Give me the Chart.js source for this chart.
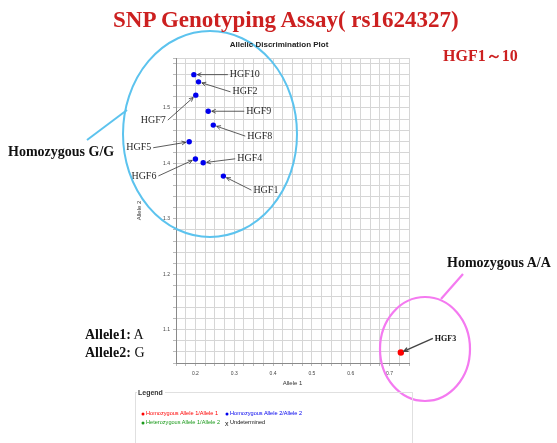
<!DOCTYPE html>
<html><head><meta charset="utf-8">
<script src="https://cdn.jsdelivr.net/npm/chart.js@4.4.1/dist/chart.umd.min.js"></script>
<style>
html,body{margin:0;padding:0;background:#fff;}
#wrap{position:relative;width:557px;height:443px;overflow:hidden;background:#fff;}
#c{position:absolute;left:0;top:0;}
.t{position:absolute;white-space:nowrap;line-height:1;transform:translateY(-50%);}
.serif{font-family:"Liberation Serif","Times New Roman",serif;}
.sans{font-family:"Liberation Sans",Arial,sans-serif;}
#title{left:113px;top:19px;font-size:23px;font-weight:bold;color:#cc2020;}
#sub{left:443px;top:56px;font-size:16px;font-weight:bold;color:#cc2020;}
#plotTitle{left:279px;top:45px;font-size:8px;font-weight:bold;color:#222;transform:translate(-50%,-50%);}
#homoGG{left:8px;top:152px;font-size:14px;font-weight:bold;color:#111;}
#homoAA{left:447px;top:263px;font-size:14px;font-weight:bold;color:#111;}
#al1{left:85px;top:335px;font-size:14px;color:#111;}
#al2{left:85px;top:353px;font-size:14px;color:#111;}
#al1 b,#al2 b{font-weight:bold;}
#legendBox{position:absolute;left:135px;top:392px;width:278px;height:60px;border:1px solid #e0e0e0;box-sizing:border-box;}
#legendTitle{position:absolute;left:137px;top:392px;transform:translateY(-50%);background:#fff;padding:0 2px 0 1px;font-size:7px;font-weight:bold;color:#333;}
.li{position:absolute;font-size:5.6px;white-space:nowrap;line-height:1;transform:translateY(-50%);}
.dot{position:absolute;width:3px;height:3px;border-radius:50%;transform:translate(-50%,-50%);}
</style></head><body>
<div id="wrap">
<canvas id="c" width="557" height="443"></canvas>
<div class="t serif" id="title">SNP Genotyping Assay( rs1624327)</div>
<div class="t serif" id="sub">HGF1～10</div>
<div class="t sans" id="plotTitle">Allelic Discrimination Plot</div>
<div class="t serif" id="homoGG">Homozygous G/G</div>
<div class="t serif" id="homoAA">Homozygous A/A</div>
<div class="t serif" id="al1"><b>Allele1:</b> A</div>
<div class="t serif" id="al2"><b>Allele2:</b> G</div>
<div id="legendBox"></div>
<div class="sans" id="legendTitle">Legend</div>
<div id="legendItems"></div>
</div>
<script>
// ---- data ----
const sampleNames   = ['HGF1','HGF2','HGF3','HGF4','HGF5','HGF6','HGF7','HGF8','HGF9','HGF10'];
const allele1Values = [0.272, 0.208, 0.729, 0.220, 0.184, 0.200, 0.201, 0.246, 0.233, 0.196];
const allele2Values = [1.377, 1.547, 1.059, 1.401, 1.439, 1.408, 1.523, 1.469, 1.494, 1.560];
const sampleCalls   = ['2/2','2/2','1/1','2/2','2/2','2/2','2/2','2/2','2/2','2/2'];
const seriesCalls   = ['1/1','2/2','1/2','undet'];
const seriesNames   = ['Homozygous Allele 1/Allele 1','Homozygous Allele 2/Allele 2','Heterozygous Allele 1/Allele 2','Undetermined'];
const xTickLabels   = ['0.2','0.3','0.4','0.5','0.6','0.7'];
const yTickLabels   = ['1.1','1.2','1.3','1.4','1.5'];

// ---- styles ----
const seriesColors = ['#ff0000','#0000ee','#1a9a1a','#111111'];
const seriesRadius = [3.2, 2.7, 2.7, 3];
const labelStyle = {
  HGF1:{dx:30,dy:14,align:'left'},
  HGF2:{dx:34,dy:10,align:'left'},
  HGF3:{dx:34,dy:-14,align:'left',bold:true},
  HGF4:{dx:34,dy:-4,align:'left'},
  HGF5:{dx:-38,dy:6,align:'right'},
  HGF6:{dx:-39,dy:17,align:'right'},
  HGF7:{dx:-30,dy:25,align:'right'},
  HGF8:{dx:34,dy:11,align:'left'},
  HGF9:{dx:38,dy:0,align:'left'},
  HGF10:{dx:36,dy:0,align:'left'}
};

const datasets = seriesCalls.map((call, s) => ({
  label: seriesNames[s],
  data: sampleNames.map((n,i)=>({x:allele1Values[i], y:allele2Values[i], name:n, call:sampleCalls[i]}))
                   .filter(p=>p.call===call),
  backgroundColor: seriesColors[s],
  borderColor: seriesColors[s],
  borderWidth: 0,
  pointRadius: seriesRadius[s],
  pointStyle: s===3 ? 'crossRot' : 'circle'
}));

function gridValues(min, max, step){
  const out=[]; const n=Math.round((max-min)/step);
  for(let k=0;k<=n;k++) out.push(+(min+k*step).toFixed(4));
  return out;
}

const annot = {
  id:'annot',
  afterDatasetsDraw(chart){
    const ctx=chart.ctx, xs=chart.scales.x, ys=chart.scales.y;
    ctx.save();
    // point labels with arrows
    sampleNames.forEach((n,i)=>{
      const st=labelStyle[n];
      const px=xs.getPixelForValue(allele1Values[i]);
      const py=ys.getPixelForValue(allele2Values[i]);
      const lx=px+st.dx, ly=py+st.dy;
      ctx.font=(st.bold?'bold 8px ':'10px ')+'"Liberation Serif", serif';
      ctx.fillStyle=st.bold?'#111':'#2a2a2a';
      ctx.textBaseline='middle';
      ctx.textAlign=st.align;
      ctx.fillText(n,lx,ly);
      // arrow
      const sx = st.align==='left'? lx-2 : lx+2;
      const sy = ly;
      const ang=Math.atan2(py-sy,px-sx);
      const ex=px-Math.cos(ang)*3.5, ey=py-Math.sin(ang)*3.5;
      ctx.strokeStyle=st.bold?'#444':'#333';
      ctx.lineWidth=st.bold?1.4:0.8;
      ctx.beginPath(); ctx.moveTo(sx,sy); ctx.lineTo(ex,ey); ctx.stroke();
      const h=4.5, a=0.45;
      ctx.beginPath();
      ctx.moveTo(ex-Math.cos(ang-a)*h, ey-Math.sin(ang-a)*h);
      ctx.lineTo(ex,ey);
      ctx.lineTo(ex-Math.cos(ang+a)*h, ey-Math.sin(ang+a)*h);
      ctx.stroke();
    });
    // highlight ellipses
    ctx.lineWidth=2;
    ctx.strokeStyle='#5cc3ee';
    ctx.beginPath(); ctx.ellipse(210,134,87,103,0,0,Math.PI*2); ctx.stroke();
    ctx.beginPath(); ctx.moveTo(87,140); ctx.lineTo(127,110); ctx.stroke();
    ctx.strokeStyle='#f47af0';
    ctx.lineWidth=2.2;
    ctx.beginPath(); ctx.ellipse(425,349,45,52,0,0,Math.PI*2); ctx.stroke();
    ctx.beginPath(); ctx.moveTo(441,299); ctx.lineTo(463,274); ctx.stroke();
    ctx.restore();
  }
};

new Chart(document.getElementById('c'), {
  type:'scatter',
  data:{datasets},
  options:{
    responsive:false, animation:false,
    layout:{padding:{left:130,right:148,top:58,bottom:50}},
    plugins:{legend:{display:false},tooltip:{enabled:false},title:{display:false}},
    scales:{
      x:{
        type:'linear', min:0.15, max:0.75,
        afterBuildTicks(s){ s.ticks=gridValues(0.15,0.75,0.025).map(v=>({value:v})); },
        afterFit(s){ s.height=30; },
        ticks:{autoSkip:false,maxRotation:0,padding:4.5,color:'#444',
          font:{family:'"Liberation Sans", Arial',size:5},
          callback(v){ const l=xTickLabels.find(t=>Math.abs(Number(t)-v)<1e-6); return l===undefined?'':l; }},
        grid:{color:'#d6d6d6',lineWidth:1,tickLength:3,tickColor:'#bbb'},
        border:{color:'#8a8a8a',width:1},
        title:{display:true,text:'Allele 1',color:'#333',font:{family:'"Liberation Sans", Arial',size:6},padding:{top:0,bottom:6.4}}
      },
      y:{
        type:'linear', min:1.04, max:1.59,
        afterBuildTicks(s){ const t=gridValues(1.04,1.58,0.02); t.push(1.59); s.ticks=t.map(v=>({value:v})); },
        afterFit(s){ s.width=46; },
        ticks:{autoSkip:false,padding:3,color:'#444',
          font:{family:'"Liberation Sans", Arial',size:5},
          callback(v){ const l=yTickLabels.find(t=>Math.abs(Number(t)-v)<1e-6); return l===undefined?'':l; }},
        grid:{color:'#d6d6d6',lineWidth:1,tickLength:3,tickColor:'#bbb'},
        border:{color:'#8a8a8a',width:1},
        title:{display:true,text:'Allele 2',color:'#333',font:{family:'"Liberation Sans", Arial',size:6},padding:{top:6,bottom:0}}
      }
    }
  },
  plugins:[annot]
});

// HTML legend built from series arrays
const legendPos = [[143,414],[227,414],[143,423],[227,423]];
const li = document.getElementById('legendItems');
seriesNames.forEach((name,s)=>{
  const [x,y]=legendPos[s];
  if(s===3){
    const m=document.createElement('div'); m.className='li sans';
    m.style.left=(x-2)+'px'; m.style.top=y+'px'; m.style.fontSize='7px'; m.style.color='#111';
    m.textContent='x'; li.appendChild(m);
  } else {
    const d=document.createElement('div'); d.className='dot';
    d.style.left=x+'px'; d.style.top=y+'px'; d.style.background=seriesColors[s]; li.appendChild(d);
  }
  const t=document.createElement('div'); t.className='li sans';
  t.style.left=(x+3)+'px'; t.style.top=y+'px'; t.style.color=seriesColors[s];
  t.textContent=name; li.appendChild(t);
});
</script>
</body></html>
